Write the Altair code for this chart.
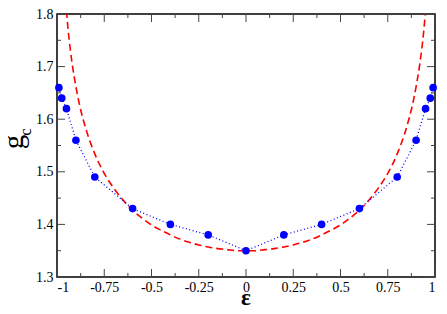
import altair as alt
import pandas as pd

# data points (blue circles)
eps_pts = [-0.99, -0.975, -0.95, -0.9, -0.8, -0.6, -0.4, -0.2, 0.0,
           0.2, 0.4, 0.6, 0.8, 0.9, 0.95, 0.975, 0.99]
g_pts = [1.66, 1.64, 1.62, 1.56, 1.49, 1.43, 1.40, 1.38, 1.35,
         1.38, 1.40, 1.43, 1.49, 1.56, 1.62, 1.64, 1.66]

# red dashed curve
eps_curve = [-0.95, -0.94, -0.92, -0.90, -0.88, -0.85, -0.80, -0.75, -0.70, -0.65,
             -0.60, -0.55, -0.50, -0.45, -0.40, -0.35, -0.30, -0.25, -0.20, -0.15,
             -0.10, -0.05, 0.0, 0.05, 0.10, 0.15, 0.20, 0.25, 0.30, 0.35, 0.40,
             0.45, 0.50, 0.55, 0.60, 0.65, 0.70, 0.75, 0.80, 0.85, 0.88, 0.90,
             0.92, 0.94, 0.95]
g_curve = [1.806, 1.766, 1.706, 1.662, 1.626, 1.585, 1.534, 1.497, 1.469, 1.446,
           1.427, 1.412, 1.399, 1.389, 1.380, 1.372, 1.366, 1.361, 1.357, 1.354,
           1.352, 1.350, 1.350, 1.350, 1.352, 1.354, 1.357, 1.361, 1.366, 1.372, 1.380,
           1.389, 1.399, 1.412, 1.427, 1.446, 1.469, 1.497, 1.534, 1.585, 1.626, 1.662,
           1.706, 1.766, 1.806]

x_major = [-1, -0.75, -0.5, -0.25, 0, 0.25, 0.5, 0.75, 1]
x_minor = [-0.875, -0.625, -0.375, -0.125, 0.125, 0.375, 0.625, 0.875]
y_major = [1.3, 1.4, 1.5, 1.6, 1.7, 1.8]
y_minor = [1.35, 1.45, 1.55, 1.65, 1.75]

W, H = 378, 263
FONT = "Liberation Serif"

pts = pd.DataFrame({"eps": eps_pts, "g": g_pts})
curve = pd.DataFrame({"eps": eps_curve, "g": g_curve})

xs = alt.Scale(domain=[-1, 1], nice=False, zero=False)
ys = alt.Scale(domain=[1.3, 1.8], nice=False, zero=False)

xax = alt.Axis(values=x_major, labelExpr="'' + datum.value", ticks=False, domain=False,
               grid=False, labelFont=FONT, labelFontSize=14, labelPadding=3,
               labelColor="black", title=None)
yax = alt.Axis(values=y_major, format=".1f", ticks=False, domain=False, grid=False,
               labelFont=FONT, labelFontSize=14, labelPadding=4, labelColor="black",
               title=None)

red = alt.Chart(curve).mark_line(color="#ff0000", strokeDash=[7, 4], strokeWidth=1.6,
                                 clip=True, interpolate="monotone").encode(
    x=alt.X("eps:Q", scale=xs, axis=xax),
    y=alt.Y("g:Q", scale=ys, axis=yax),
    order="eps:Q")

blue_line = alt.Chart(pts).mark_line(color="#0000ff", strokeDash=[1, 2.5],
                                     strokeWidth=1.3).encode(
    x=alt.X("eps:Q", scale=xs), y=alt.Y("g:Q", scale=ys), order="eps:Q")

blue_pts = alt.Chart(pts).mark_circle(color="#0000ff", opacity=1, size=58).encode(
    x=alt.X("eps:Q", scale=xs), y=alt.Y("g:Q", scale=ys))

def xticks(vals, length):
    df = pd.DataFrame({"t": vals})
    bot = alt.Chart(df).mark_rule(color="#444", strokeWidth=1).encode(
        x=alt.X("t:Q", scale=xs), y=alt.value(H), y2=alt.value(H - length))
    top = alt.Chart(df).mark_rule(color="#444", strokeWidth=1).encode(
        x=alt.X("t:Q", scale=xs), y=alt.value(0), y2=alt.value(length))
    return [bot, top]

def yticks(vals, length):
    df = pd.DataFrame({"t": vals})
    lef = alt.Chart(df).mark_rule(color="#444", strokeWidth=1).encode(
        y=alt.Y("t:Q", scale=ys), x=alt.value(0), x2=alt.value(length))
    rig = alt.Chart(df).mark_rule(color="#444", strokeWidth=1).encode(
        y=alt.Y("t:Q", scale=ys), x=alt.value(W), x2=alt.value(W - length))
    return [lef, rig]

tick_layers = xticks(x_major, 8) + xticks(x_minor, 4) + yticks(y_major, 8) + yticks(y_minor, 4)

g_title = alt.Chart(pd.DataFrame({"t": ["g"]})).mark_text(
    font=FONT, fontSize=29, angle=270, align="center", baseline="middle",
    color="black").encode(x=alt.value(-43), y=alt.value(128), text="t:N")
c_title = alt.Chart(pd.DataFrame({"t": ["c"]})).mark_text(
    font=FONT, fontSize=17, angle=270, align="center", baseline="middle",
    color="black").encode(x=alt.value(-31), y=alt.value(118), text="t:N")
e_title = alt.Chart(pd.DataFrame({"t": ["ε"]})).mark_text(
    font=FONT, fontSize=23, fontWeight="bold", align="center", baseline="alphabetic",
    color="black").encode(x=alt.value(W / 2), y=alt.value(H + 28), text="t:N")

chart = alt.layer(red, blue_line, blue_pts, *tick_layers, g_title, c_title, e_title).properties(
    width=W, height=H,
    autosize=alt.AutoSizeParams(type="none"),
    padding={"left": 49, "top": 6, "right": 4, "bottom": 29},
).configure_view(stroke="black", strokeWidth=1.5)

chart.save("out.html", embed_options={"renderer": "svg", "actions": False})
